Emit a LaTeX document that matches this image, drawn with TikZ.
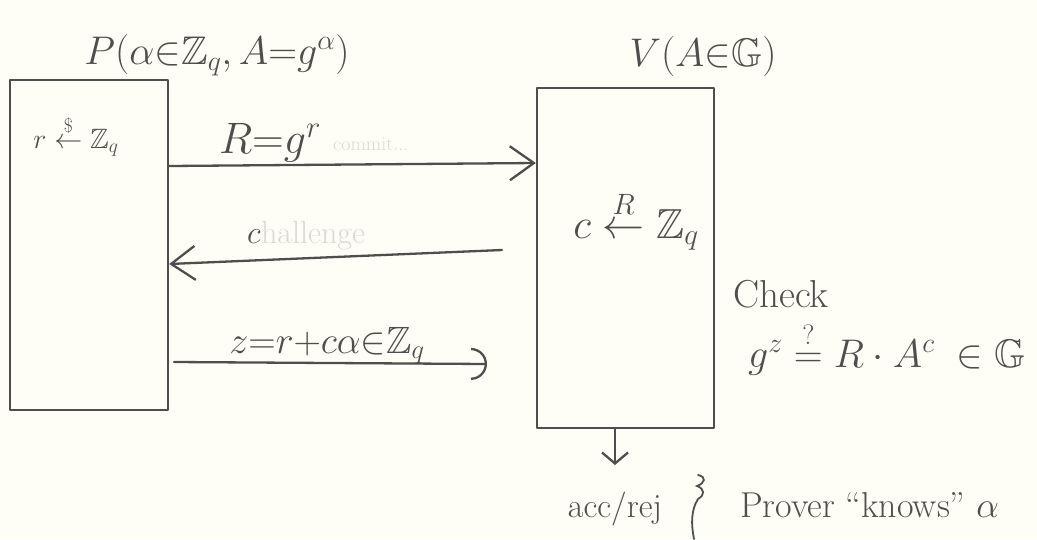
\RequirePackage{fix-cm}
\documentclass[tikz,border=0pt]{standalone}
\usepackage{amsmath,amssymb}
\usetikzlibrary{arrows.meta}
\definecolor{ink}{HTML}{4E4E4E}
\definecolor{paper}{HTML}{FFFEF6}
\definecolor{ghost}{HTML}{D9D9D6}
\newcommand{\fsz}[1]{\fontsize{#1}{#1}\selectfont}
\begin{document}
\begin{tikzpicture}[x=1pt,y=-1pt,
  inkline/.style={draw=ink, line width=2.3pt, line cap=round, line join=round},
  party/.style={inkline, rectangle, inner sep=0pt},
  lab/.style={text=ink, inner sep=0pt},
  faint/.style={text=ghost, inner sep=0pt},
  msg/.style={inkline, -{Straight Barb[length=24pt,width=34pt,line width=2.3pt]}},
  msgarc/.style={inkline, -{Arc Barb[length=16pt,width=32pt,line width=2.3pt]}},
  downarr/.style={inkline, -{Straight Barb[length=11pt,width=26pt,line width=2.3pt]}},
  squiggle/.style={draw=ink, line width=1.8pt, line cap=round}
]
\fill[paper] (0,0) rectangle (1037,539);
\useasboundingbox (0,0) rectangle (1037,539);

% parties
\node[party, minimum width=158pt, minimum height=330pt] (P) at (89,245) {};
\node[party, minimum width=177pt, minimum height=340pt] (V) at (625.5,258) {};
\node[lab, font=\fsz{40}, anchor=base] (Pt) at (217,64) {$P(\alpha{\in}\mathbb{Z}_q, A{=}g^{\alpha})$};
\node[lab, font=\fsz{40}, anchor=base] (Vt) at (703,66) {$V(A{\in}\mathbb{G})$};

% local computations
\node[lab, font=\fsz{28}, anchor=base] (rs) at (76,148) {$r\overset{\$}{\leftarrow}\mathbb{Z}_q$};
\node[lab, font=\fsz{42}, anchor=base] (cs) at (636,238) {$c\overset{R}{\leftarrow}\mathbb{Z}_q$};

% message 1
\node[lab, font=\fsz{44}, anchor=base] (Rl) at (270,153) {$R{=}g^r$};
\node[faint, font=\fsz{20}, anchor=base west] (cm) at (333,150) {commit...};
\draw[msg] (P.east |- 0,166) -- (V.west |- 0,163);

% message 2
\node[lab, font=\fsz{32}, anchor=base west] (cl) at (247,243) {$c$};
\node[faint, font=\fsz{32}, anchor=base west] (ch) at (cl.base east) {hallenge};
\coordinate (m2s) at (502,250);
\draw[msg] (m2s) -- (P.east |- 0,264);

% message 3
\node[lab, font=\fsz{38}, anchor=base] (zl) at (327,353) {$z{=}r{+}c\alpha{\in}\mathbb{Z}_q$};
\coordinate (m3s) at (174,362);
\coordinate (m3e) at (487,364);
\draw[msgarc] (m3s) -- (m3e);

% verification
\node[lab, font=\fsz{39}, anchor=base west] (chk) at (733,307) {Check};
\node[lab, font=\fsz{40}, anchor=base west] (eq) at (748,367) {$g^{z}\overset{?}{=}R\cdot A^{c}\;\in\mathbb{G}$};

% output
\node[lab, font=\fsz{34}, anchor=base] (acc) at (615,517) {acc/rej};
\coordinate (dn) at (615,465);
\draw[downarr] (V.south -| dn) -- (dn);
\draw[squiggle] (698,475) .. controls (707,477) and (705,483) .. (697,486)
  .. controls (705,489) and (705,495) .. (698,499)
  .. controls (691,510) and (691,524) .. (694,539);
\node[lab, font=\fsz{36}, anchor=base west] (kn) at (740,517) {Prover ``knows'' $\alpha$};
\end{tikzpicture}
\end{document}
